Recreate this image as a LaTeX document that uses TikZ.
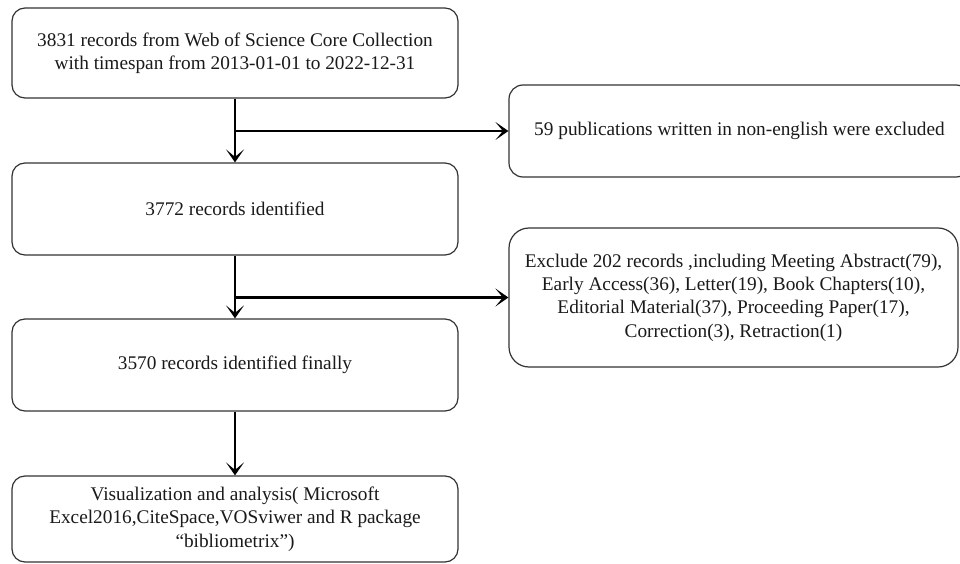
\documentclass[tikz,border=0pt]{standalone}
\usepackage{fontspec}
\setmainfont{Liberation Serif}
\usetikzlibrary{arrows.meta}
\definecolor{boxline}{HTML}{333333}
\definecolor{txt}{HTML}{1A1A1A}
\tikzset{
  flowbox/.style={draw=boxline, line width=1.2pt, fill=white, text=txt,
    align=center, inner sep=2pt, font=\fontsize{19.3}{23.3}\selectfont},
  arr/.style={draw=black, line width=2.8pt,
    -{Stealth[length=13pt,width=18pt,inset=7.5pt]}}
}
\begin{document}
\begin{tikzpicture}[x=1pt,y=-1pt]
\useasboundingbox (0,0) rectangle (960,564);
\fill[white] (0,0) rectangle (960,564);
\node[flowbox, rounded corners=13pt, minimum width=446pt, minimum height=90pt] (b1) at (235,53)
  {3831 records from Web of Science Core Collection\\with timespan from 2013-01-01 to 2022-12-31};
\node[flowbox, rounded corners=13pt, minimum width=446pt, minimum height=92pt] (b2) at (235,209)
  {3772 records identified};
\node[flowbox, rounded corners=13pt, minimum width=446pt, minimum height=92pt] (b3) at (235,365)
  {3570 records identified finally};
\node[flowbox, rounded corners=13pt, minimum width=446pt, minimum height=86pt] (b4) at (235,519)
  {Visualization and analysis( Microsoft\\Excel2016,CiteSpace,VOSviwer and R package\\``bibliometrix'')};
\node[flowbox, rounded corners=14pt, minimum width=461pt, minimum height=92pt] (r1) at (739.5,131)
  {59 publications written in non-english were excluded};
\node[flowbox, rounded corners=20pt, minimum width=449pt, minimum height=139pt] (r2) at (733.5,297.5)
  {Exclude 202 records ,including Meeting Abstract(79),\\Early Access(36), Letter(19), Book Chapters(10),\\Editorial Material(37), Proceeding Paper(17),\\Correction(3), Retraction(1)};
\draw[arr] (b1.south) -- (b2.north);
\draw[arr] (b1.south |- r1.west) -- (r1.west);
\draw[arr] (b2.south) -- (b3.north);
\draw[arr] (b2.south |- r2.west) -- (r2.west);
\draw[arr] (b3.south) -- (b4.north);
\end{tikzpicture}
\end{document}
